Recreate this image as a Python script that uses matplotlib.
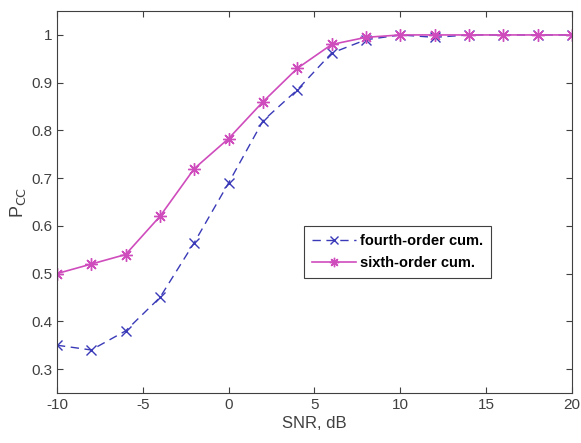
import matplotlib
matplotlib.use('Agg')
import matplotlib.pyplot as plt
import numpy as np

snr = np.arange(-10, 21, 2)
p_fourth = [0.35, 0.34, 0.38, 0.45, 0.565, 0.69, 0.82, 0.885, 0.962, 0.99,
            1.0, 0.995, 1.0, 1.0, 1.0, 1.0]
p_sixth = [0.50, 0.52, 0.54, 0.62, 0.72, 0.783, 0.86, 0.93, 0.98, 0.995,
           1.0, 1.0, 1.0, 1.0, 1.0, 1.0]

plt.rcParams['font.family'] = ['Liberation Sans', 'DejaVu Sans']
plt.rcParams['axes.unicode_minus'] = False

fig = plt.figure(figsize=(5.81, 4.43), dpi=100)
ax = fig.add_axes([0.098, 0.113, 0.8865, 0.862])

# asterisk marker with 8 arms, like MATLAB's '*'
asterisk = (8, 2, 0)

ax.plot(snr, p_fourth, '--', marker='x', color='#3a3ab8', lw=1.0, ms=7,
        mew=1.0, dashes=(6, 4), label='fourth-order cum.')
ax.plot(snr, p_sixth, '-', marker=asterisk, color='#cf4cbd', lw=1.2, ms=9,
        mew=1.0, label='sixth-order cum.')

ax.set_xlim(-10, 20)
ax.set_ylim(0.25, 1.05)
ax.set_xticks(np.arange(-10, 21, 5))
ax.set_yticks([0.3, 0.4, 0.5, 0.6, 0.7, 0.8, 0.9, 1.0])
ax.set_yticklabels(['0.3', '0.4', '0.5', '0.6', '0.7', '0.8', '0.9', '1'])
ax.tick_params(direction='in', length=4, labelsize=11, colors='#404040',
               top=True, right=True, labeltop=False, labelright=False)
for s in ax.spines.values():
    s.set_color('#404040')
    s.set_linewidth(0.8)

ax.set_xlabel('SNR, dB', fontsize=12, color='#404040', labelpad=3)
ax.set_ylabel(r'P$_{\mathrm{CC}}$', fontsize=13, color='#404040', labelpad=2)

leg = ax.legend(loc='center left', bbox_to_anchor=(0.48, 0.369),
                borderaxespad=0, prop={'weight': 'bold', 'size': 10.5},
                fancybox=False, edgecolor='#404040', framealpha=1,
                handlelength=3.0, borderpad=0.55, labelspacing=0.6,
                handletextpad=0.3, markerscale=0.75)
leg.get_frame().set_linewidth(0.8)

fig.savefig('out.png', dpi=100)
